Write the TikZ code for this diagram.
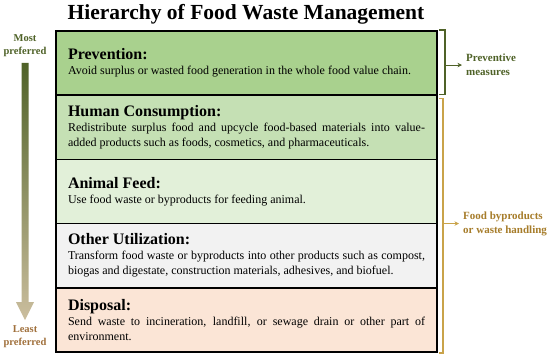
\documentclass[tikz,border=0pt]{standalone}
\usepackage{fontspec}
\setmainfont{Liberation Serif}
\usepackage{xcolor}
\usetikzlibrary{arrows.meta, positioning, calc}
\hyphenpenalty=10000
\definecolor{prevfill}{HTML}{A9D18E}
\definecolor{humanfill}{HTML}{C5E0B4}
\definecolor{animalfill}{HTML}{E2F0D9}
\definecolor{otherfill}{HTML}{F2F2F2}
\definecolor{disposalfill}{HTML}{FBE5D6}
\definecolor{olivedark}{HTML}{4F6228}
\definecolor{tanlight}{HTML}{CBBE9E}
\definecolor{brownlabel}{HTML}{A0703C}
\definecolor{goldline}{HTML}{C9A34A}
\definecolor{goldtext}{HTML}{A67C2A}
\newcommand{\headtext}[1]{{\fontsize{16}{16}\selectfont\bfseries #1}}
\tikzset{
    tierblock/.style={rectangle, draw=black, line width=1.6pt, outer sep=0pt, inner xsep=12pt, inner ysep=4pt, text width=357pt, minimum height=64.2pt, align=justify, font=\fontsize{12}{15}\selectfont},
    sidelabel/.style={font=\fontsize{11}{14}\selectfont\bfseries, align=left, inner sep=2pt},
    endlabel/.style={font=\fontsize{10.5}{13}\selectfont\bfseries, align=center, inner sep=0pt},
    bracket/.style={line width=1.1pt},
    arrow/.style={line width=1pt, -{Stealth[length=4.5pt, width=4.5pt]}, shorten >=2pt}
}

\begin{document}
\begin{tikzpicture}[x=1pt, y=1pt]
    \useasboundingbox (0,0) rectangle (550,360);
    % Nodes
    \node (title) [anchor=base, font=\fontsize{21.5}{24}\selectfont\bfseries] at (246,341) {Hierarchy of Food Waste Management};

    \node (prev) [tierblock, fill=prevfill, anchor=north west] at (56,329) {\headtext{Prevention:}\\ Avoid surplus or wasted food generation in the whole food value chain.};
    \node (human) [tierblock, fill=humanfill, below=0pt of prev] {\headtext{Human Consumption:}\\ Redistribute surplus food and upcycle food-based materials into value-added products such as foods, cosmetics, and pharmaceuticals.};
    \node (animal) [tierblock, fill=animalfill, below=0pt of human] {\headtext{Animal Feed:}\\ Use food waste or byproducts for feeding animal.};
    \node (other) [tierblock, fill=otherfill, below=0pt of animal] {\headtext{Other Utilization:}\\ Transform food waste or byproducts into other products such as compost, biogas and digestate, construction materials, adhesives, and biofuel.};
    \node (disposal) [tierblock, fill=disposalfill, below=0pt of other] {\headtext{Disposal:}\\ Send waste to incineration, landfill, or sewage drain or other part of environment.};

    \node (most) [endlabel, text=olivedark] at (25,314.5) {Most\\preferred};
    \node (least) [endlabel, text=brownlabel] at (25,23.5) {Least\\preferred};

    % Preference arrow
    \coordinate (arrtop) at ([yshift=-6pt]most.south);
    \coordinate (arrtip) at ([yshift=5pt]least.north);
    \shade[top color=olivedark, bottom color=tanlight]
        ($(arrtop)+(-3.5,0)$) -- ($(arrtop)+(3.5,0)$) -- ($(arrtip)+(3.5,18)$) -- ($(arrtip)+(9,18)$)
        -- (arrtip) -- ($(arrtip)+(-9,18)$) -- ($(arrtip)+(-3.5,18)$) -- cycle;

    % Brackets
    \draw [bracket, draw=olivedark] ([xshift=2pt,yshift=1pt]prev.north east) -| ([xshift=8pt,yshift=1pt]prev.south east) -- ([xshift=2pt,yshift=1pt]prev.south east);
    \draw [bracket, draw=goldline] ([xshift=2pt,yshift=-3pt]human.north east) -| ([xshift=6pt,yshift=-1pt]disposal.south east) -- ([xshift=2pt,yshift=-1pt]disposal.south east);
    \coordinate (prevmid) at ([xshift=8pt,yshift=-2pt]prev.east);
    \coordinate (wastemid) at ([xshift=6pt]animal.south east);

    \node (prevlabel) [sidelabel, text=olivedark, right=19pt of prevmid] {Preventive\\measures};
    \node (wastelabel) [sidelabel, text=goldtext, right=18pt of wastemid] {Food byproducts\\or waste handling};

    % Arrows
    \draw [arrow, draw=olivedark, fill=olivedark] (prevmid) -- (prevlabel);
    \draw [arrow, draw=goldline, fill=goldline] (wastemid) -- (wastelabel);
\end{tikzpicture}
\end{document}
